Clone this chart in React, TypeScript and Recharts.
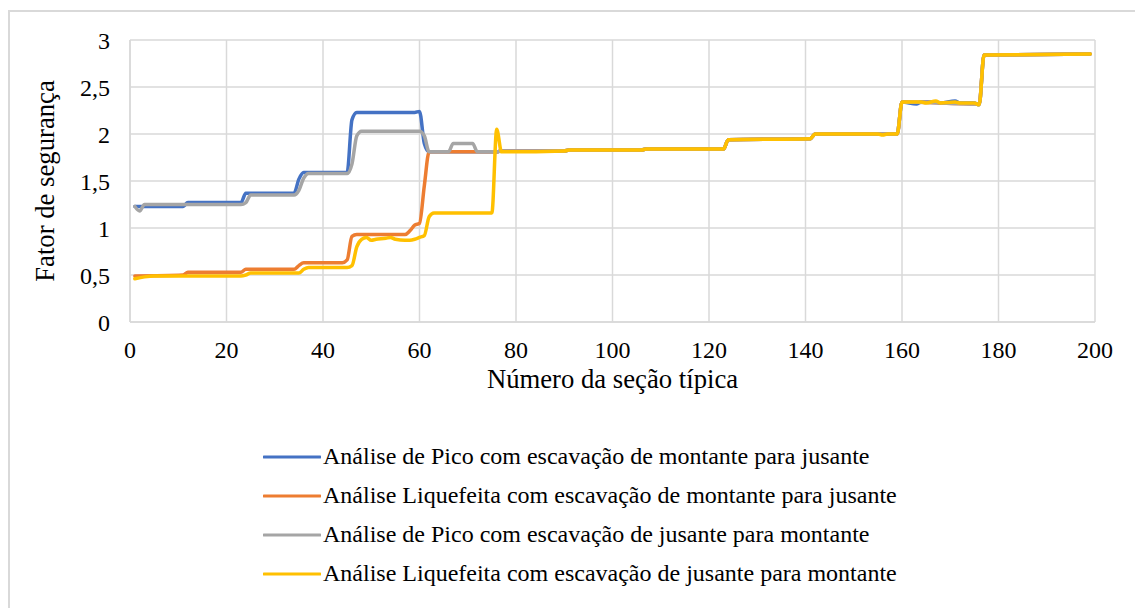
import React from 'react';
import { LineChart, Line, XAxis, YAxis, CartesianGrid, Legend } from 'recharts';

// Seções típicas (eixo x) e fatores de segurança (eixo y)
const picoMontSections = [1, 11, 12, 23, 24, 34, 35, 36, 45, 46, 47, 59, 60, 61, 62, 76, 77, 90, 91, 106, 107, 123, 124, 141, 142, 159, 160, 163, 164, 167, 168, 171, 172, 175, 176, 177, 199];
const picoMontValues = [1.23, 1.23, 1.27, 1.27, 1.37, 1.37, 1.52, 1.59, 1.59, 2.15, 2.23, 2.23, 2.24, 1.9, 1.81, 1.81, 1.82, 1.82, 1.83, 1.83, 1.84, 1.84, 1.94, 1.95, 2.0, 2.0, 2.34, 2.32, 2.34, 2.34, 2.33, 2.35, 2.33, 2.33, 2.31, 2.84, 2.85];

const liqMontSections = [1, 11, 12, 23, 24, 34, 35, 36, 44, 45, 46, 47, 57, 58, 59, 60, 61, 62, 76, 77, 90, 91, 106, 107, 123, 124, 141, 142, 159, 160, 176, 177, 199];
const liqMontValues = [0.49, 0.5, 0.53, 0.53, 0.56, 0.56, 0.6, 0.63, 0.63, 0.66, 0.91, 0.93, 0.93, 0.97, 1.03, 1.05, 1.45, 1.81, 1.81, 1.82, 1.82, 1.83, 1.83, 1.84, 1.84, 1.94, 1.95, 2.0, 2.0, 2.34, 2.32, 2.84, 2.85];

const picoJusSections = [1, 2, 3, 23, 24, 25, 34, 35, 36, 37, 45, 46, 47, 48, 60, 61, 62, 66, 67, 71, 72, 76, 77, 90, 91, 106, 107, 123, 124, 141, 142, 159, 160, 176, 177, 199];
const picoJusValues = [1.23, 1.18, 1.25, 1.25, 1.27, 1.35, 1.35, 1.4, 1.53, 1.58, 1.58, 1.68, 1.98, 2.03, 2.03, 1.98, 1.81, 1.81, 1.9, 1.9, 1.81, 1.81, 1.82, 1.82, 1.83, 1.83, 1.84, 1.84, 1.94, 1.95, 2.0, 2.0, 2.34, 2.32, 2.84, 2.85];

const liqJusSections = [1, 3, 5, 23, 24, 25, 35, 36, 37, 45, 46, 47, 48, 49, 50, 51, 53, 54, 55, 57, 58, 59, 60, 61, 62, 63, 75, 76, 77, 90, 91, 106, 107, 123, 124, 141, 142, 155, 156, 157, 159, 160, 164, 165, 167, 168, 171, 172, 175, 176, 177, 199];
const liqJusValues = [0.46, 0.48, 0.49, 0.49, 0.5, 0.52, 0.52, 0.56, 0.58, 0.58, 0.6, 0.8, 0.88, 0.9, 0.87, 0.88, 0.89, 0.9, 0.88, 0.87, 0.87, 0.88, 0.9, 0.92, 1.12, 1.16, 1.16, 2.05, 1.81, 1.82, 1.83, 1.83, 1.84, 1.84, 1.94, 1.95, 2.0, 2.0, 1.99, 2.0, 2.0, 2.34, 2.34, 2.33, 2.35, 2.33, 2.34, 2.33, 2.33, 2.31, 2.84, 2.85];

const xTicks = [0, 20, 40, 60, 80, 100, 120, 140, 160, 180, 200];
const yTicks = [0, 0.5, 1, 1.5, 2, 2.5, 3];

const toPoints = (sections: number[], values: number[]) =>
  sections.map((s, i) => ({ secao: s, fs: values[i] }));

const series = [
  { name: 'Análise de Pico com escavação de montante para jusante', color: '#4472C4', data: toPoints(picoMontSections, picoMontValues) },
  { name: 'Análise Liquefeita com escavação de montante para jusante', color: '#ED7D31', data: toPoints(liqMontSections, liqMontValues) },
  { name: 'Análise de Pico com escavação de jusante para montante', color: '#A5A5A5', data: toPoints(picoJusSections, picoJusValues) },
  { name: 'Análise Liquefeita com escavação de jusante para montante', color: '#FFC000', data: toPoints(liqJusSections, liqJusValues) },
];

const FONT = "'Liberation Serif', 'Times New Roman', serif";
const comma = (v: number) => String(v).replace('.', ',');

const LegendBox = () => (
  <div style={{ fontFamily: FONT, fontSize: 24, color: '#000' }}>
    {series.map((s) => (
      <div key={s.name} style={{ display: 'flex', alignItems: 'center', height: 39, whiteSpace: 'nowrap' }}>
        <svg width={58} height={6} style={{ display: 'block' }}>
          <line x1={1} y1={3} x2={57} y2={3} stroke={s.color} strokeWidth={3} strokeLinecap="round" />
        </svg>
        <span style={{ marginLeft: 2 }}>{s.name}</span>
      </div>
    ))}
  </div>
);

const App: React.FC = () => {
  return (
    <div style={{ position: 'absolute', left: 0, top: 0, width: 1135, height: 608, overflow: 'hidden', background: '#fff' }}>
      <div style={{ position: 'absolute', left: 8, top: 10, width: 1200, height: 700, border: '2px solid #d9d9d9', boxSizing: 'border-box' }} />
      <div style={{ position: 'absolute', left: 0, top: 0 }}>
        <LineChart width={1135} height={608} margin={{ top: 40, right: 40, bottom: 216, left: 10 }} style={{ fontFamily: FONT }}>
          <CartesianGrid stroke="#d9d9d9" strokeWidth={1.5} />
          <XAxis
            type="number"
            dataKey="secao"
            domain={[0, 200]}
            ticks={xTicks}
            height={70}
            tickSize={0}
            tickMargin={19}
            axisLine={{ stroke: '#d9d9d9', strokeWidth: 1.5 }}
            tick={{ fill: '#000', fontSize: 24, fontFamily: FONT }}
            label={{ value: 'Número da seção típica', position: 'insideBottom', offset: 4, fill: '#000', fontSize: 26.7, fontFamily: FONT }}
          />
          <YAxis
            type="number"
            dataKey="fs"
            domain={[0, 3]}
            ticks={yTicks}
            width={120}
            tickSize={0}
            tickMargin={20}
            tickFormatter={comma}
            axisLine={{ stroke: '#d9d9d9', strokeWidth: 1.5 }}
            tick={{ fill: '#000', fontSize: 24, fontFamily: FONT }}
            label={{ value: 'Fator de segurança', angle: -90, position: 'insideLeft', offset: 35, fill: '#000', fontSize: 26.7, fontFamily: FONT, style: { textAnchor: 'middle' } }}
          />
          {series.map((s) => (
            <Line
              key={s.name}
              data={s.data}
              dataKey="fs"
              name={s.name}
              type="monotone"
              stroke={s.color}
              strokeWidth={3.5}
              strokeLinejoin="round"
              strokeLinecap="round"
              dot={false}
              activeDot={false}
              isAnimationActive={false}
            />
          ))}
          <Legend
            layout="vertical"
            align="center"
            verticalAlign="middle"
            content={() => <LegendBox />}
            wrapperStyle={{ left: 263, top: 437, width: 720, height: 160 }}
          />
        </LineChart>
      </div>
    </div>
  );
};

export default App;
